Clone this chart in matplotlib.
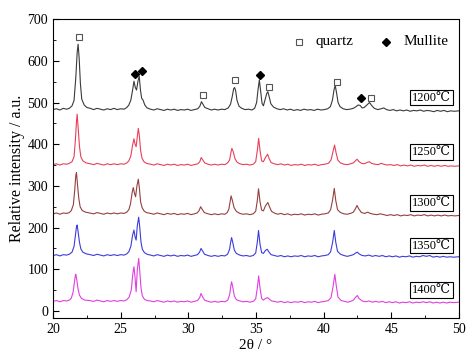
import matplotlib
matplotlib.use("Agg")
import matplotlib.pyplot as plt
from matplotlib.ticker import MultipleLocator

plt.rcParams['font.family'] = ['Liberation Serif', 'DejaVu Serif']

# XRD patterns: (2theta, intensity)
c1200 = [(20.0,483),(20.25,485),(20.5,482),(20.75,486),(21.0,484),(21.2,486),(21.4,492),(21.55,505),(21.68,560),(21.78,620),(21.85,640),(21.93,605),(22.02,545),(22.12,508),(22.3,494),(22.5,488),(22.75,486),(23.0,483),(23.25,486),(23.5,484),(23.75,482),(24.0,485),(24.25,483),(24.5,486),(24.75,483),(25.0,485),(25.25,484),(25.45,488),(25.6,494),(25.75,506),(25.88,530),(25.98,551),(26.08,536),(26.17,530),(26.28,552),(26.37,563),(26.46,530),(26.55,510),(26.65,506),(26.78,494),(26.95,487),(27.2,484),(27.45,482),(27.7,485),(27.95,483),(28.2,481),(28.45,484),(28.7,482),(28.95,484),(29.2,481),(29.45,483),(29.7,482),(29.95,484),(30.2,481),(30.45,483),(30.7,485),(30.85,491),(30.97,502),(31.08,496),(31.22,488),(31.45,485),(31.7,482),(31.95,484),(32.2,482),(32.45,484),(32.7,483),(32.95,487),(33.12,496),(33.25,515),(33.35,533),(33.42,536),(33.5,528),(33.6,505),(33.75,491),(33.95,486),(34.2,483),(34.45,484),(34.7,482),(34.9,486),(35.05,500),(35.15,530),(35.25,554),(35.35,525),(35.45,498),(35.55,492),(35.68,508),(35.8,522),(35.88,526),(35.97,515),(36.1,497),(36.3,489),(36.55,485),(36.8,483),(37.05,485),(37.3,482),(37.55,484),(37.8,481),(38.05,483),(38.3,481),(38.55,484),(38.8,482),(39.05,483),(39.3,481),(39.55,484),(39.8,482),(40.05,483),(40.3,485),(40.5,490),(40.65,505),(40.77,530),(40.86,541),(40.95,525),(41.07,500),(41.22,490),(41.45,485),(41.7,483),(41.95,484),(42.2,486),(42.4,490),(42.55,494),(42.7,493),(42.85,487),(43.0,488),(43.2,494),(43.4,500),(43.55,493),(43.75,486),(44.0,483),(44.25,485),(44.45,487),(44.65,483),(44.9,481),(45.15,483),(45.4,480),(45.65,482),(45.9,480),(46.15,482),(46.4,479),(46.65,481),(46.9,480),(47.15,482),(47.4,479),(47.65,481),(47.9,480),(48.15,478),(48.4,481),(48.65,479),(48.9,481),(49.15,478),(49.4,480),(49.65,479),(50.0,480)]

c1250 = [(20.0,351),(20.25,353),(20.5,350),(20.75,353),(21.0,352),(21.2,354),(21.4,358),(21.55,370),(21.65,410),(21.73,455),(21.78,472),(21.85,440),(21.95,395),(22.05,370),(22.2,360),(22.45,355),(22.75,353),(23.0,351),(23.25,354),(23.5,352),(23.75,350),(24.0,353),(24.25,351),(24.5,353),(24.75,351),(25.0,353),(25.25,352),(25.45,355),(25.6,360),(25.75,372),(25.88,398),(25.98,413),(26.06,400),(26.14,394),(26.23,420),(26.3,438),(26.38,420),(26.47,385),(26.58,366),(26.72,358),(26.9,354),(27.2,352),(27.45,350),(27.7,353),(27.95,351),(28.2,349),(28.45,352),(28.7,350),(28.95,352),(29.2,349),(29.45,351),(29.7,350),(29.95,352),(30.2,349),(30.45,351),(30.7,353),(30.85,358),(30.95,368),(31.07,362),(31.22,355),(31.45,352),(31.7,350),(31.95,352),(32.2,350),(32.45,352),(32.7,351),(32.9,355),(33.05,362),(33.15,380),(33.22,390),(33.32,382),(33.45,365),(33.6,357),(33.8,353),(34.05,351),(34.3,352),(34.55,350),(34.8,352),(34.98,358),(35.1,385),(35.2,414),(35.3,385),(35.42,360),(35.55,358),(35.7,368),(35.86,376),(35.98,365),(36.12,356),(36.35,353),(36.6,351),(36.85,353),(37.1,350),(37.35,352),(37.6,349),(37.85,351),(38.1,350),(38.35,352),(38.6,349),(38.85,351),(39.1,350),(39.35,352),(39.6,349),(39.85,351),(40.1,352),(40.35,354),(40.55,362),(40.68,380),(40.81,398),(40.92,380),(41.05,362),(41.25,355),(41.5,352),(41.75,351),(42.0,353),(42.2,355),(42.35,360),(42.47,364),(42.6,359),(42.8,354),(43.0,353),(43.2,356),(43.38,358),(43.55,354),(43.8,352),(44.05,351),(44.25,354),(44.45,352),(44.7,350),(44.95,351),(45.2,349),(45.45,351),(45.7,348),(45.95,350),(46.2,348),(46.45,350),(46.7,347),(46.95,349),(47.2,348),(47.45,350),(47.7,347),(47.95,349),(48.2,347),(48.45,349),(48.7,347),(48.95,349),(49.2,347),(49.45,348),(49.7,347),(50.0,348)]

c1300 = [(20.0,233),(20.25,235),(20.5,232),(20.75,235),(21.0,234),(21.2,236),(21.35,241),(21.5,255),(21.6,290),(21.68,325),(21.73,332),(21.8,305),(21.9,270),(22.0,250),(22.15,241),(22.4,237),(22.7,235),(23.0,233),(23.25,236),(23.5,234),(23.75,232),(24.0,235),(24.25,233),(24.5,235),(24.75,233),(25.0,235),(25.25,234),(25.45,237),(25.6,243),(25.72,256),(25.85,285),(25.93,296),(26.02,282),(26.1,274),(26.2,300),(26.3,316),(26.38,295),(26.47,262),(26.58,248),(26.72,240),(26.9,236),(27.2,234),(27.45,232),(27.7,235),(27.95,233),(28.2,231),(28.45,234),(28.7,232),(28.95,234),(29.2,231),(29.45,233),(29.7,232),(29.95,234),(30.2,231),(30.45,233),(30.65,235),(30.8,241),(30.91,250),(31.02,244),(31.18,236),(31.45,233),(31.7,231),(31.95,233),(32.2,231),(32.45,233),(32.7,232),(32.88,236),(33.0,245),(33.1,265),(33.16,276),(33.25,266),(33.38,248),(33.55,239),(33.8,234),(34.05,232),(34.3,233),(34.55,231),(34.8,233),(34.98,239),(35.1,265),(35.19,293),(35.3,262),(35.42,242),(35.55,240),(35.7,252),(35.88,260),(36.0,250),(36.15,239),(36.35,235),(36.6,232),(36.85,234),(37.1,231),(37.35,233),(37.6,230),(37.85,232),(38.1,231),(38.35,233),(38.6,230),(38.85,232),(39.1,231),(39.35,233),(39.6,230),(39.85,232),(40.1,233),(40.35,235),(40.52,243),(40.66,265),(40.79,294),(40.9,265),(41.03,243),(41.25,236),(41.5,233),(41.75,232),(42.0,234),(42.2,237),(42.35,245),(42.47,253),(42.6,245),(42.8,236),(43.05,234),(43.26,237),(43.45,234),(43.7,232),(43.95,231),(44.2,233),(44.45,231),(44.7,229),(44.95,231),(45.2,229),(45.45,231),(45.7,228),(45.95,230),(46.2,229),(46.45,231),(46.7,228),(46.95,230),(47.2,229),(47.45,231),(47.7,228),(47.95,230),(48.2,228),(48.45,230),(48.7,228),(48.95,230),(49.2,228),(49.45,229),(49.7,228),(50.0,229)]

c1350 = [(20.0,133),(20.25,135),(20.5,132),(20.75,135),(21.0,134),(21.2,136),(21.4,141),(21.55,155),(21.65,180),(21.73,202),(21.78,206),(21.85,190),(21.95,165),(22.05,149),(22.2,141),(22.45,137),(22.75,135),(23.0,133),(23.25,136),(23.5,134),(23.75,132),(24.0,135),(24.25,133),(24.5,135),(24.75,133),(25.0,135),(25.25,134),(25.45,137),(25.6,142),(25.75,155),(25.88,182),(25.98,194),(26.06,178),(26.14,170),(26.23,205),(26.33,225),(26.41,200),(26.5,165),(26.6,148),(26.75,140),(26.95,136),(27.2,134),(27.45,132),(27.7,135),(27.95,133),(28.2,131),(28.45,134),(28.7,132),(28.95,134),(29.2,131),(29.45,133),(29.7,132),(29.95,134),(30.2,131),(30.45,133),(30.68,135),(30.83,141),(30.94,150),(31.05,144),(31.2,136),(31.45,133),(31.7,131),(31.95,133),(32.2,131),(32.45,133),(32.7,132),(32.9,136),(33.05,148),(33.13,165),(33.2,176),(33.28,165),(33.4,146),(33.55,138),(33.8,134),(34.05,132),(34.3,133),(34.55,131),(34.8,133),(34.98,139),(35.1,165),(35.19,193),(35.3,160),(35.42,140),(35.55,138),(35.7,145),(35.83,148),(35.97,141),(36.12,135),(36.35,133),(36.6,131),(36.85,133),(37.1,130),(37.35,132),(37.6,130),(37.85,132),(38.1,131),(38.35,133),(38.6,130),(38.85,132),(39.1,131),(39.35,133),(39.6,130),(39.85,132),(40.1,133),(40.35,135),(40.52,142),(40.67,165),(40.79,193),(40.9,165),(41.03,143),(41.25,136),(41.5,133),(41.75,131),(42.0,133),(42.2,135),(42.37,139),(42.5,141),(42.62,137),(42.85,133),(43.1,132),(43.35,134),(43.6,131),(43.85,133),(44.1,131),(44.35,133),(44.6,130),(44.85,132),(45.1,130),(45.35,132),(45.6,129),(45.85,131),(46.1,130),(46.35,132),(46.6,129),(46.85,131),(47.1,130),(47.35,133),(47.6,131),(47.85,133),(48.1,129),(48.35,131),(48.6,129),(48.85,131),(49.1,129),(49.35,130),(49.6,129),(50.0,130)]

c1400 = [(20.0,23),(20.25,25),(20.5,22),(20.75,25),(21.0,24),(21.2,26),(21.35,31),(21.48,45),(21.58,70),(21.65,86),(21.68,88),(21.75,75),(21.85,52),(21.95,38),(22.1,30),(22.35,26),(22.7,25),(23.0,23),(23.25,26),(23.5,24),(23.75,22),(24.0,25),(24.25,23),(24.5,25),(24.75,23),(25.0,25),(25.25,24),(25.45,27),(25.62,33),(25.78,50),(25.9,90),(25.98,106),(26.06,80),(26.14,46),(26.23,100),(26.33,126),(26.41,95),(26.5,55),(26.6,36),(26.75,28),(26.95,25),(27.2,24),(27.45,22),(27.7,25),(27.95,23),(28.2,21),(28.45,24),(28.7,22),(28.95,24),(29.2,21),(29.45,23),(29.7,22),(29.95,24),(30.2,21),(30.45,23),(30.68,25),(30.84,32),(30.94,42),(31.05,34),(31.2,26),(31.45,23),(31.7,21),(31.95,23),(32.2,21),(32.45,23),(32.7,22),(32.92,26),(33.06,40),(33.14,60),(33.2,70),(33.28,58),(33.4,36),(33.55,27),(33.8,24),(34.05,22),(34.3,23),(34.55,21),(34.8,23),(34.98,29),(35.1,55),(35.2,84),(35.3,55),(35.42,30),(35.55,26),(35.7,30),(35.86,32),(36.0,28),(36.15,24),(36.35,23),(36.6,21),(36.85,23),(37.1,20),(37.35,22),(37.6,20),(37.85,22),(38.1,21),(38.35,23),(38.6,20),(38.85,22),(39.1,21),(39.35,23),(39.6,20),(39.85,22),(40.1,23),(40.35,25),(40.55,32),(40.7,58),(40.83,88),(40.94,60),(41.07,33),(41.3,25),(41.55,23),(41.8,21),(42.0,23),(42.2,26),(42.37,33),(42.5,37),(42.62,30),(42.85,24),(43.1,22),(43.35,24),(43.6,21),(43.85,23),(44.1,21),(44.35,23),(44.6,20),(44.85,22),(45.1,20),(45.35,22),(45.6,19),(45.85,21),(46.1,20),(46.35,22),(46.6,19),(46.85,21),(47.1,20),(47.35,22),(47.6,20),(47.85,22),(48.1,19),(48.35,21),(48.6,19),(48.85,21),(49.1,19),(49.35,21),(49.6,20),(50.0,21)]

curves = [c1200, c1250, c1300, c1350, c1400]
temps = ['1200℃', '1250℃', '1300℃', '1350℃', '1400℃']
colors = ['#3a3a3a', '#e8405a', '#944040', '#3c3cdc', '#e040e0']
label_y = [512, 382, 259, 157, 50]

# phase markers over the 1200 pattern
quartz_x = [21.95, 31.06, 33.48, 36.0, 40.99, 43.5]
quartz_y = [658, 518, 554, 537, 549, 512]
mullite_x = [26.07, 26.57, 35.31, 42.79]
mullite_y = [568, 575, 566, 511]

fig = plt.figure(figsize=(4.74, 3.61), dpi=100)
ax = fig.add_axes([0.112, 0.119, 0.856, 0.828])

for c, col in zip(curves, colors):
    xs, ys = zip(*c)
    ax.plot(xs, ys, color=col, lw=0.8)

ax.plot(quartz_x, quartz_y, 's', ms=5, mfc='white', mec='#555555', mew=0.8, ls='none')
ax.plot(mullite_x, mullite_y, 'D', ms=4.5, color='black', ls='none')

for t, yl in zip(temps, label_y):
    ax.text(48.0, yl, t, ha='center', va='center', fontsize=9,
            family=['Liberation Serif', 'DejaVu Serif', 'Noto Sans CJK SC'],
            bbox=dict(boxstyle='square,pad=0.15', fc='white', ec='black', lw=0.8))

# legend drawn as text + markers
ax.plot([38.2], [646], 's', ms=5, mfc='white', mec='#555555', mew=0.8)
ax.text(39.4, 646, 'quartz', va='center', fontsize=11)
ax.plot([44.6], [646], 'D', ms=4.5, color='black')
ax.text(45.9, 646, 'Mullite', va='center', fontsize=11)

ax.set_xlim(20, 50)
ax.set_ylim(-17, 700)
ax.xaxis.set_major_locator(MultipleLocator(5))
ax.xaxis.set_minor_locator(MultipleLocator(2.5))
ax.yaxis.set_major_locator(MultipleLocator(100))
ax.yaxis.set_minor_locator(MultipleLocator(50))
ax.tick_params(which='both', direction='in', top=False, right=False, labelsize=10)
ax.tick_params(which='major', length=4)
ax.tick_params(which='minor', length=2.5)
ax.set_xlabel('2θ / °', fontsize=11, labelpad=2)
ax.set_ylabel('Relative intensity / a.u.', fontsize=11.5, labelpad=2)

fig.savefig('out.png', dpi=100)
